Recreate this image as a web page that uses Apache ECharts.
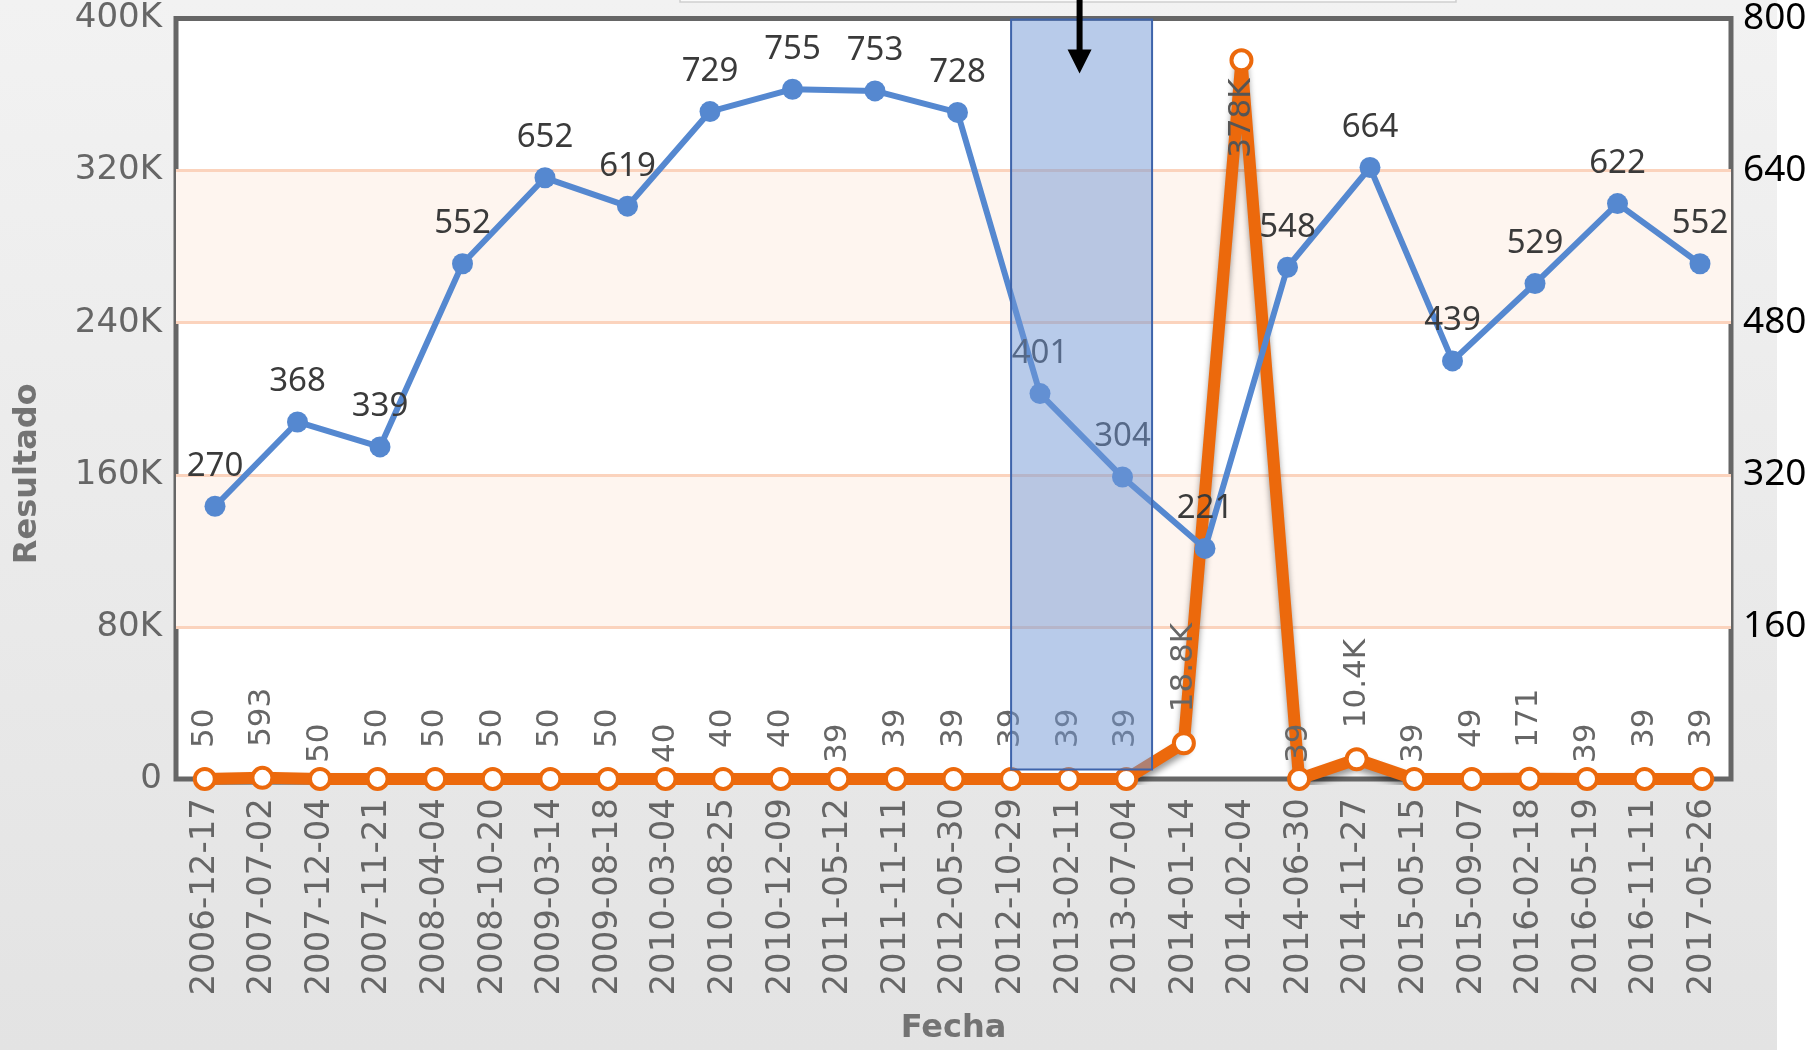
<!DOCTYPE html>
<html>
<head>
<meta charset="utf-8">
<script src="https://cdn.jsdelivr.net/npm/echarts@6/dist/echarts.min.js"></script>
<style>
html,body{margin:0;padding:0;background:#ffffff;}
#chart{width:1817px;height:1050px;}
</style>
</head>
<body>
<div id="chart"></div>
<script>
// ---- data ----
const categories = ['2006-12-17','2007-07-02','2007-12-04','2007-11-21','2008-04-04','2008-10-20','2009-03-14','2009-08-18','2010-03-04','2010-08-25','2010-12-09','2011-05-12','2011-11-11','2012-05-30','2012-10-29','2013-02-11','2013-07-04','2014-01-14','2014-02-04','2014-06-30','2014-11-27','2015-05-15','2015-09-07','2016-02-18','2016-05-19','2016-11-11','2017-05-26'];
const resultadoValues = [50,593,50,50,50,50,50,50,40,40,40,39,39,39,39,39,39,18800,378000,39,10400,39,49,171,39,39,39];
const overlayValues = [270,368,339,552,652,619,729,755,753,728,401,304,221,548,664,439,529,622,552];
const leftTicks = [0,80000,160000,240000,320000,400000];
const rightTicks = [0,160,320,480,640,800];
const highlightRange = ['2012-10-29','2013-07-04'];

// ---- styling ----
const ORANGE = '#ec690c';
const BLUE = '#5588d0';
const GREY_TXT = '#666666';
const FONT = 'DejaVu Sans';
const FONT2 = 'Noto Sans';

function kFormat(v){
  if (v === 0) return '0';
  if (Math.abs(v) >= 1000) return String(+(v/1000).toPrecision(3)) + 'K';
  return String(v);
}

const leftMax = leftTicks[leftTicks.length-1];
const orangeData = resultadoValues.map((v,i)=>{
  const prev = i>0 ? resultadoValues[i-1] : v;
  if (v > leftMax*0.8) {
    return {value:v, label:{position:'bottom', align:'right', verticalAlign:'middle', distance:6, color:'#555'}};
  }
  return {value:v, label:{distance: v < prev ? 4 : 19}};
});

const chart = echarts.init(document.getElementById('chart'), null, {renderer:'canvas'});
const option = {
  animation:false,
  backgroundColor:'#ffffff',
  graphic:[
    {id:'bg', type:'rect', z:-10, silent:true, shape:{x:0,y:0,width:1777,height:1050},
     style:{fill:new echarts.graphic.LinearGradient(0,0,0,1,[{offset:0,color:'#f2f2f2'},{offset:1,color:'#e3e3e3'}])}},
    {id:'topbox', type:'rect', z:-9, silent:true, shape:{x:680,y:-10,width:776,height:12},
     style:{fill:'#fafafa', stroke:'#cfcfcf', lineWidth:1.5}}
  ],
  grid:[
    {left:176, right:86, top:17, bottom:266, show:true, backgroundColor:'#ffffff', borderColor:'#666666', borderWidth:5},
    {left:215, right:117, top:17, bottom:266, show:false}
  ],
  xAxis:[
    {type:'category', gridIndex:0, data:categories, boundaryGap:true,
     axisLine:{show:false}, axisTick:{show:false},
     axisLabel:{interval:0, rotate:90, color:GREY_TXT, fontFamily:FONT, fontSize:34, margin:19},
     name:'Fecha', nameLocation:'middle', nameGap:234,
     nameTextStyle:{color:'#737373', fontFamily:FONT, fontWeight:'bold', fontSize:32}},
    {type:'category', gridIndex:1, data:overlayValues.map((_,i)=>String(i+1)), boundaryGap:false, show:false}
  ],
  yAxis:[
    {type:'value', gridIndex:0, min:leftTicks[0], max:leftMax, interval:leftTicks[1]-leftTicks[0],
     axisLine:{show:false}, axisTick:{show:false},
     axisLabel:{formatter:kFormat, color:GREY_TXT, fontFamily:FONT, fontSize:34, margin:14},
     splitLine:{show:true, showMinLine:false, showMaxLine:false, lineStyle:{color:'#fbd3bd', width:3}},
     splitArea:{show:true, areaStyle:{color:['rgba(255,255,255,0)','#fef5ef']}},
     name:'Resultado', nameLocation:'middle', nameGap:132,
     nameTextStyle:{color:'#737373', fontFamily:FONT, fontWeight:'bold', fontSize:32, padding:[0,150,0,0]}},
    {type:'value', gridIndex:0, position:'right', min:rightTicks[0], max:rightTicks[rightTicks.length-1], interval:rightTicks[1]-rightTicks[0],
     axisLine:{show:false}, axisTick:{show:false}, splitLine:{show:false},
     axisLabel:{showMinLabel:false, color:'#000000', fontFamily:FONT2, fontSize:37, margin:12}},
    {type:'value', gridIndex:1, min:-53, max:839, show:false}
  ],
  series:[
    {type:'line', name:'Resultado', xAxisIndex:0, yAxisIndex:0, data:orangeData, z:3,
     symbol:'circle', symbolSize:20, showAllSymbol:true,
     lineStyle:{color:ORANGE, width:12, shadowColor:'rgba(0,0,0,0.4)', shadowBlur:6, shadowOffsetY:5},
     itemStyle:{color:'#ffffff', borderColor:ORANGE, borderWidth:4},
     label:{show:true, position:'top', rotate:90, align:'left', verticalAlign:'middle', distance:19,
            color:GREY_TXT, fontFamily:FONT, fontSize:31, formatter:p=>kFormat(p.value)}},
    {type:'line', name:'Overlay', xAxisIndex:1, yAxisIndex:2, data:overlayValues, z:4,
     symbol:'circle', symbolSize:21, showAllSymbol:true,
     lineStyle:{color:BLUE, width:6},
     itemStyle:{color:BLUE},
     label:{show:true, position:'top', distance:13, color:'#3a3a3a', fontFamily:FONT2, fontSize:33}}
  ]
};
chart.setOption(option);

// highlight rectangle + arrow placed from the axes
const i0 = categories.indexOf(highlightRange[0]);
const i1 = categories.indexOf(highlightRange[1]);
const x1 = chart.convertToPixel({xAxisIndex:0}, categories[i0]);
const x2 = (chart.convertToPixel({xAxisIndex:0}, categories[i1]) + chart.convertToPixel({xAxisIndex:0}, categories[i1+1]))/2 - 3;
const yTop = chart.convertToPixel({yAxisIndex:0}, leftMax);
const yBot = chart.convertToPixel({yAxisIndex:0}, 5000);
const xc = (x1+x2)/2 - 2;
chart.setOption({graphic:[
  {id:'hl', type:'rect', z:20, silent:true, shape:{x:x1, y:yTop+1, width:x2-x1, height:yBot-yTop-1},
   style:{fill:'rgba(114,152,214,0.5)', stroke:'#3e64ab', lineWidth:2}},
  {id:'arrowShaft', type:'rect', z:21, silent:true, shape:{x:xc-3, y:0, width:6, height:yTop+33},
   style:{fill:'#000000'}},
  {id:'arrowHead', type:'polygon', z:21, silent:true, shape:{points:[[xc-12,yTop+31],[xc+12,yTop+31],[xc,yTop+55]]},
   style:{fill:'#000000'}}
]});
</script>
</body>
</html>
